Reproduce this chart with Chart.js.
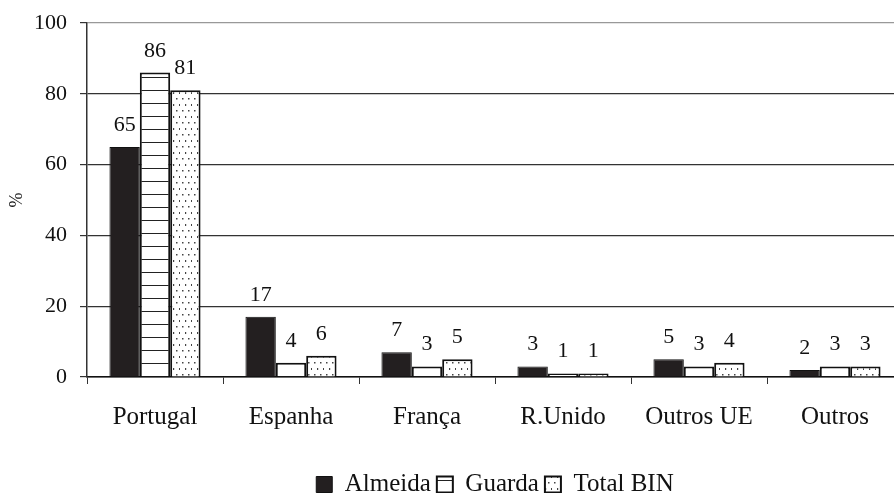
<!DOCTYPE html>
<html>
<head>
<meta charset="utf-8">
<script src="https://cdn.jsdelivr.net/npm/chart.js@4"></script>
<style>
  html, body { margin: 0; padding: 0; background: #fff; overflow: hidden; }
  #wrap { width: 894px; height: 493px; overflow: hidden; }
</style>
</head>
<body>
<div id="wrap"><canvas id="chart" width="990" height="493"></canvas></div>
<script>
// Dados do gráfico
const categorias = ["Portugal", "Espanha", "França", "R.Unido", "Outros UE", "Outros"];
const almeida = [65, 17, 7, 3, 5, 2];
const guarda = [86, 4, 3, 1, 3, 3];
const totalBin = [81, 6, 5, 1, 4, 3];
const yTicks = [0, 20, 40, 60, 80, 100];

const FONT = "'Liberation Serif', 'Times New Roman', serif";

// Padrão de linhas horizontais (Guarda)
function padraoLinhas() {
  const c = document.createElement("canvas");
  c.width = 8; c.height = 13;
  const g = c.getContext("2d");
  g.fillStyle = "#fff";
  g.fillRect(0, 0, 8, 13);
  g.fillStyle = "#222";
  g.fillRect(0, 12, 8, 1.4);
  return g.createPattern(c, "repeat");
}

// Padrão pontilhado (Total BIN)
function padraoPontos() {
  const c = document.createElement("canvas");
  c.width = 12; c.height = 12;
  const g = c.getContext("2d");
  g.fillStyle = "#fff";
  g.fillRect(0, 0, 12, 12);
  g.fillStyle = "#444";
  g.fillRect(2, 2, 1.5, 1.5);
  g.fillRect(8, 2, 1.5, 1.5);
  g.fillRect(5, 8, 1.2, 2);
  g.fillRect(11, 8, 1.2, 2);
  return g.createPattern(c, "repeat");
}

// Rótulos de valor por cima das barras
const rotulosPlugin = {
  id: "rotulos",
  afterDatasetsDraw(chart) {
    const ctx = chart.ctx;
    ctx.save();
    ctx.font = "22px " + FONT;
    ctx.fillStyle = "#111";
    ctx.textAlign = "center";
    ctx.textBaseline = "alphabetic";
    chart.data.datasets.forEach((ds, i) => {
      chart.getDatasetMeta(i).data.forEach((bar, j) => {
        ctx.fillText(String(ds.data[j]), bar.x, bar.y - 16);
      });
    });
    ctx.restore();
  }
};

const ctx = document.getElementById("chart").getContext("2d");
new Chart(ctx, {
  type: "bar",
  data: {
    labels: categorias,
    datasets: [
      {
        label: "Almeida",
        data: almeida,
        backgroundColor: "#231f20",
        borderColor: "#111",
        borderWidth: 1,
      },
      {
        label: "Guarda",
        data: guarda,
        backgroundColor: padraoLinhas(),
        borderColor: "#111",
        borderWidth: 2,
      },
      {
        label: "Total BIN",
        data: totalBin,
        backgroundColor: padraoPontos(),
        borderColor: "#111",
        borderWidth: 2,
      },
    ],
  },
  options: {
    responsive: false,
    animation: false,
    devicePixelRatio: 1,
    layout: { padding: { top: 23, right: 0, left: 0, bottom: -14 } },
    datasets: {
      bar: { categoryPercentage: 0.67, barPercentage: 1.0 },
    },
    plugins: {
      tooltip: { enabled: false },
      legend: {
        display: true,
        position: "bottom",
        labels: {
          font: { family: FONT, size: 25 },
          color: "#111",
          boxWidth: 16,
          boxHeight: 16,
          padding: 6,
        },
      },
    },
    scales: {
      x: {
        grid: {
          display: true,
          drawOnChartArea: false,
          drawTicks: true,
          tickLength: 7,
          color: "#333",
        },
        border: { color: "#111", width: 1.5 },
        ticks: {
          font: { family: FONT, size: 25 },
          color: "#111",
          padding: 18,
          maxRotation: 0,
        },
        afterFit(scale) {
          scale.height = 89;
        },
      },
      y: {
        min: 0,
        max: 100,
        afterBuildTicks(scale) {
          scale.ticks = yTicks.map(v => ({ value: v }));
        },
        grid: {
          color: (c) => (c.tick && c.tick.value === 100 ? "#999" : "#333"),
          tickColor: "#333",
          tickLength: 7,
          lineWidth: 1.2,
        },
        border: { color: "#333", width: 1.5 },
        ticks: {
          font: { family: FONT, size: 22, lineHeight: 0.5 },
          color: "#111",
          padding: 13,
        },
        title: {
          display: true,
          text: "%",
          font: { family: FONT, size: 18 },
          color: "#111",
          padding: { top: 6, bottom: 0 },
        },
        afterFit(scale) {
          scale.width = 87;
        },
      },
      // eixo vazio à direita: o gráfico original é mais largo que a imagem
      y2: {
        position: "right",
        display: true,
        grid: { display: false },
        border: { display: false },
        ticks: { display: false },
        afterFit(scale) {
          scale.width = 87;
        },
      },
    },
  },
  plugins: [rotulosPlugin],
});
</script>
</body>
</html>
